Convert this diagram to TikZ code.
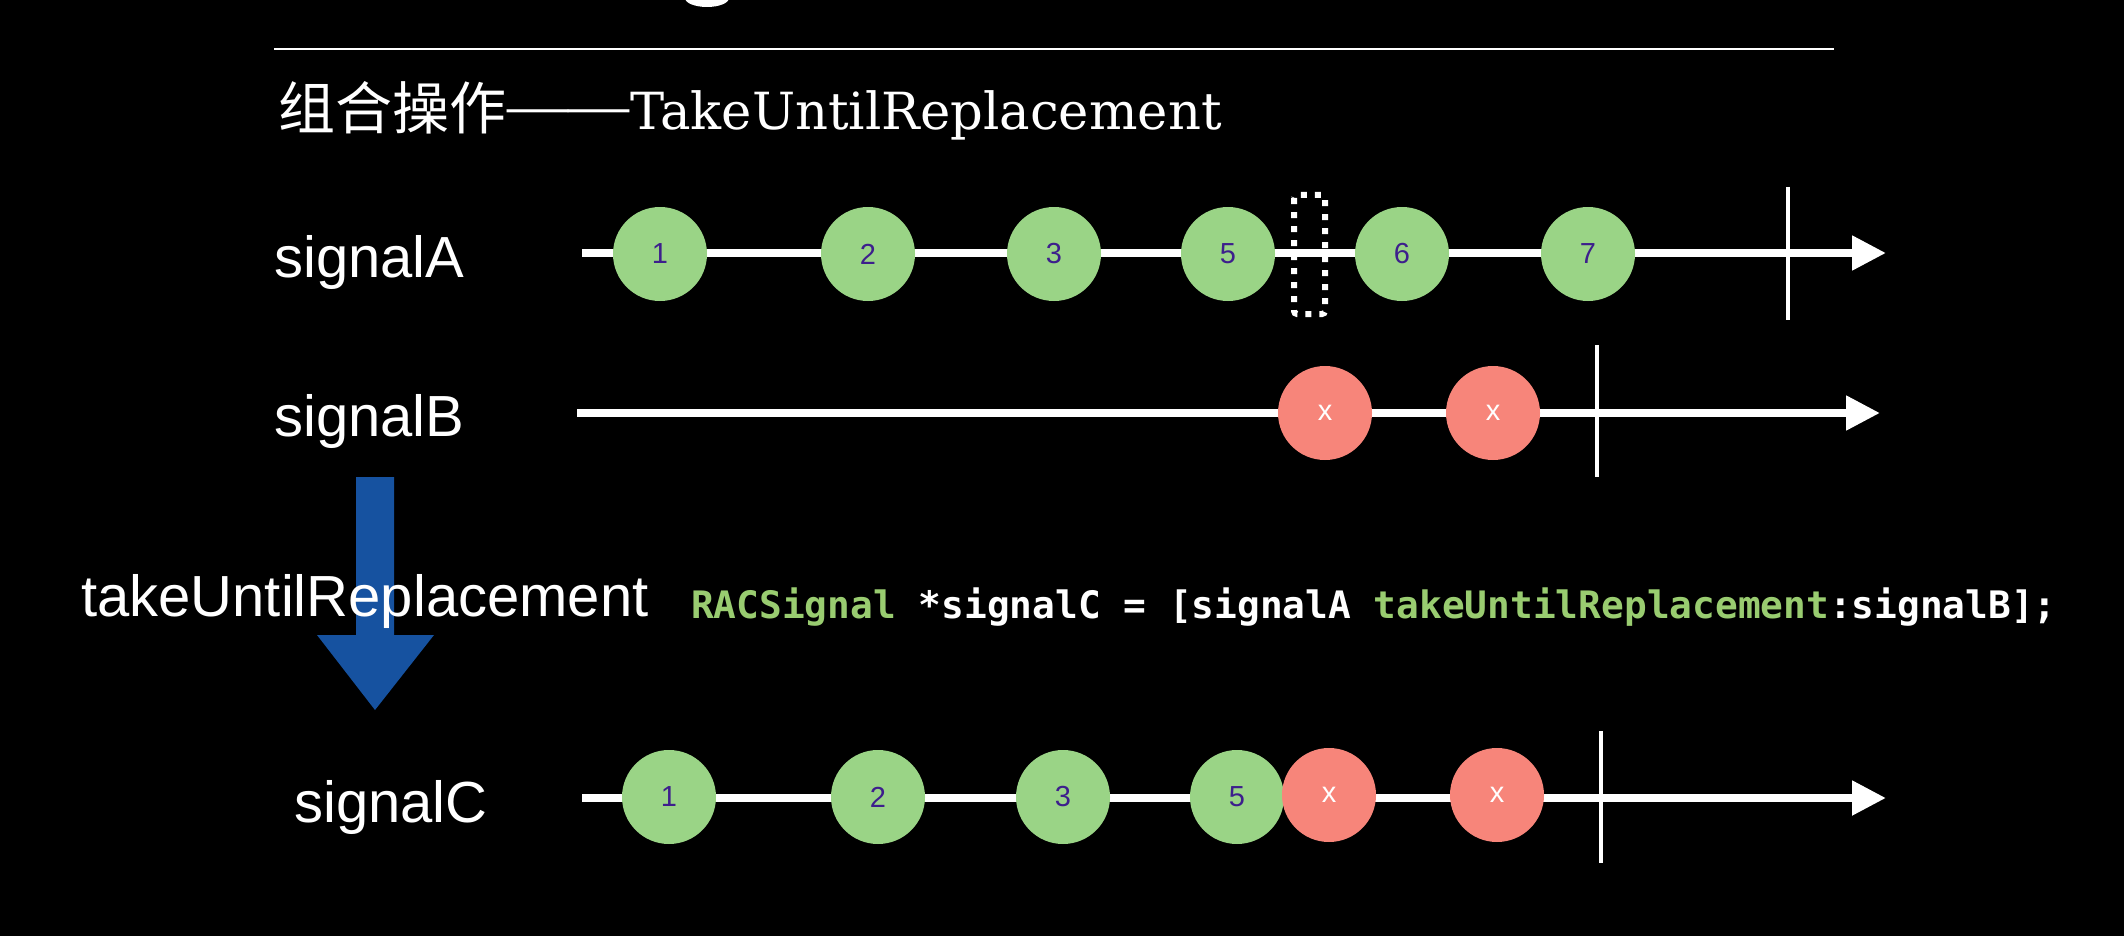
\documentclass[tikz,border=0pt]{standalone}
\usepackage{fontspec}
\setmainfont{Liberation Sans}
\newfontfamily\titlefont{DejaVu Serif}
\newfontfamily\dashfont{Liberation Serif}
\newfontfamily\cjkfont{Noto Sans CJK SC}
\newfontfamily\codefont{DejaVu Sans Mono}
\usetikzlibrary{arrows.meta}
\definecolor{evgreen}{RGB}{154,212,134}
\definecolor{evred}{RGB}{247,133,122}
\definecolor{numpurple}{RGB}{61,31,140}
\definecolor{codegreen}{RGB}{153,204,112}
\definecolor{arrowblue}{RGB}{22,82,160}
\begin{document}
\begin{tikzpicture}[x=1pt,y=-1pt,
  timeline/.style={white, line width=8pt, -{Triangle[length=34pt,width=33pt]}},
  endtick/.style={white, line width=4pt},
  gcirc/.style={circle, fill=evgreen, minimum size=94pt, inner sep=0pt, text=numpurple, font=\fontsize{29}{29}\selectfont},
  rcirc/.style={circle, fill=evred, minimum size=94pt, inner sep=0pt, text=white, font=\fontsize{29}{29}\selectfont},
  siglabel/.style={anchor=base west, inner sep=0pt, text=white, font=\fontsize{58}{58}\selectfont},
  headtext/.style={anchor=base west, inner sep=0pt, text=white},
]
\fill[black] (0,0) rectangle (2124,936);
\useasboundingbox (0,0) rectangle (2124,936);

% cut-off title remnant and rule
\fill[white] (707,-2) ellipse (22 and 9);
\coordinate (r0) at (274,49);
\coordinate (r1) at (1834,49);
\draw[white, line width=2.5pt] (r0) -- (r1);

% heading
\node[headtext, font=\cjkfont\fontsize{57}{57}\selectfont] (tcjk) at (278,130) {组合操作};
\node[headtext, font=\dashfont\fontsize{61}{61}\selectfont] (tdash) at (507,126) {——};
\node[headtext, font=\titlefont\fontsize{51.2}{52}\selectfont] (tlat) at (630,130) {TakeUntilReplacement};

% signalA
\node[siglabel] (la) at (274,277) {signalA};
\coordinate (a0) at (582,253);
\coordinate (a9) at (1886,253);
\draw[timeline] (a0) -- (a9);
\coordinate (at0) at (1788,187);
\coordinate (at1) at (1788,320);
\draw[endtick] (at0) -- (at1);
\node[gcirc] (a1) at (660,254) {1};
\node[gcirc] (a2) at (868,254) {2};
\node[gcirc] (a3) at (1054,254) {3};
\node[gcirc] (a5) at (1228,254) {5};
\node[gcirc] (a6) at (1402,254) {6};
\node[gcirc] (a7) at (1588,254) {7};
\draw[white, line width=6pt, dash pattern=on 6pt off 8pt, rounded corners=3pt] (1294,195) rectangle (1325,314);

% signalB
\node[siglabel] (lb) at (274,436) {signalB};
\coordinate (b0) at (577,413);
\coordinate (b9) at (1880,413);
\draw[timeline] (b0) -- (b9);
\coordinate (bt0) at (1597,345);
\coordinate (bt1) at (1597,477);
\draw[endtick] (bt0) -- (bt1);
\node[rcirc] (b1) at (1325,413) {x};
\node[rcirc] (b2) at (1493,413) {x};

% operator arrow
\fill[arrowblue] (356,477) -- (394,477) -- (394,635) -- (434,635) -- (375,710) -- (317,635) -- (356,635) -- cycle;
\node[siglabel] (lop) at (81,616) {takeUntilReplacement};

% code
\node[anchor=base west, inner sep=0pt, font=\codefont\bfseries\fontsize{37.8}{38}\selectfont] (code) at (691,618)
  {\textcolor{codegreen}{RACSignal} \textcolor{white}{*signalC = [signalA} \textcolor{codegreen}{takeUntilReplacement}\textcolor{white}{:signalB];}};

% signalC
\node[siglabel] (lc) at (294,822) {signalC};
\coordinate (c0) at (582,798);
\coordinate (c9) at (1886,798);
\draw[timeline] (c0) -- (c9);
\coordinate (ct0) at (1601,731);
\coordinate (ct1) at (1601,863);
\draw[endtick] (ct0) -- (ct1);
\node[gcirc] (c1) at (669,797) {1};
\node[gcirc] (c2) at (878,797) {2};
\node[gcirc] (c3) at (1063,797) {3};
\node[gcirc] (c5) at (1237,797) {5};
\node[rcirc] (c6) at (1329,795) {x};
\node[rcirc] (c7) at (1497,795) {x};
\end{tikzpicture}
\end{document}
